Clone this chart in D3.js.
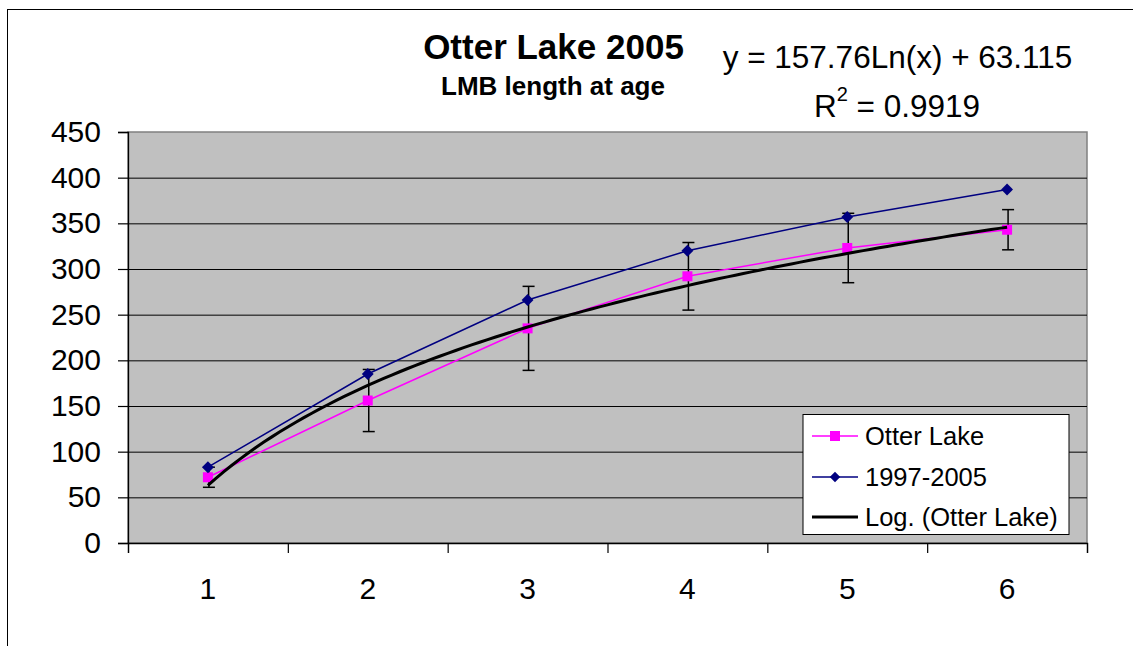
<!DOCTYPE html>
<html>
<head>
<meta charset="utf-8">
<script src="https://cdn.jsdelivr.net/npm/d3@7"></script>
<style>
  html, body { margin: 0; padding: 0; background: #fff; }
  svg { display: block; font-family: "Liberation Sans", Arial, sans-serif; }
</style>
</head>
<body>
<svg id="chart" width="1133" height="646"></svg>
<script>
// ---- data ----
const ages = [1, 2, 3, 4, 5, 6];
const otterLake = [72, 156, 235, 292, 323, 343];
const otterLakeErr = [11, 34, 46, 37, 38, 22];
const period9705 = [83, 185, 266, 320, 357, 387];
const yTicks = [0, 50, 100, 150, 200, 250, 300, 350, 400, 450];
const trendCoefA = 157.76;
const trendCoefB = 63.115;
const titleText = "Otter Lake 2005";
const subtitleText = "LMB length at age";
const seriesNames = ["Otter Lake", "1997-2005", "Log. (Otter Lake)"];

// ---- layout ----
const svg = d3.select("#chart");
const plot = { left: 128, top: 132, right: 1087, bottom: 543 };

// outer chart frame
svg.append("rect")
  .attr("x", 7.5).attr("y", 9.5)
  .attr("width", 1300).attr("height", 800)
  .attr("fill", "#fff").attr("stroke", "#000").attr("stroke-width", 1);

const x = d3.scaleBand().domain(ages).range([plot.left, plot.right]);
const xc = d3.scaleLinear().domain([0.5, 6.5]).range([plot.left, plot.right]);
const y = d3.scaleLinear().domain([0, 450]).range([plot.bottom, plot.top]);
const cx = a => x(a) + x.bandwidth() / 2;

// plot background
svg.append("rect")
  .attr("x", plot.left).attr("y", plot.top)
  .attr("width", plot.right - plot.left).attr("height", plot.bottom - plot.top)
  .attr("fill", "#c0c0c0").attr("stroke", "#808080").attr("stroke-width", 1.5);

// gridlines
const grid = svg.append("g")
  .attr("transform", `translate(${plot.left},0)`)
  .call(d3.axisLeft(y).tickValues(yTicks.filter(v => v > 0 && v < 450))
    .tickSize(-(plot.right - plot.left)).tickFormat(""));
grid.select(".domain").remove();
grid.selectAll(".tick line").attr("stroke", "#000").attr("stroke-width", 1);

// y axis
const yAxis = svg.append("g")
  .attr("transform", `translate(${plot.left},0)`)
  .call(d3.axisLeft(y).tickValues(yTicks).tickSize(10).tickPadding(17));
yAxis.select(".domain").attr("stroke", "#000").attr("stroke-width", 1.3);
yAxis.selectAll(".tick line").attr("stroke", "#000").attr("stroke-width", 1.2);
yAxis.selectAll(".tick text")
  .attr("font-size", 30).attr("fill", "#000")
  .attr("font-family", "Liberation Sans, Arial, sans-serif");

// x axis: ticks at category boundaries
const xAxis = svg.append("g")
  .attr("transform", `translate(0,${plot.bottom})`)
  .call(d3.axisBottom(xc).tickValues(d3.range(0.5, 6.6, 1)).tickSize(10).tickFormat(""));
xAxis.select(".domain").attr("stroke", "#000").attr("stroke-width", 1.3);
xAxis.selectAll(".tick line").attr("stroke", "#000").attr("stroke-width", 1.2);

const xLabels = svg.append("g")
  .attr("transform", `translate(0,${plot.bottom})`)
  .call(d3.axisBottom(x).tickSize(0).tickPadding(35));
xLabels.select(".domain").remove();
xLabels.selectAll(".tick text")
  .attr("font-size", 30).attr("fill", "#000")
  .attr("font-family", "Liberation Sans, Arial, sans-serif");

// error bars (Otter Lake)
const eb = svg.append("g").attr("stroke", "#000").attr("stroke-width", 1.5);
ages.forEach((a, i) => {
  const xx = cx(a) + 1;
  const lo = y(otterLake[i] - otterLakeErr[i]);
  const hi = y(otterLake[i] + otterLakeErr[i]);
  eb.append("line").attr("x1", xx).attr("x2", xx).attr("y1", lo).attr("y2", hi);
  eb.append("line").attr("x1", xx - 6).attr("x2", xx + 6).attr("y1", lo).attr("y2", lo);
  eb.append("line").attr("x1", xx - 6).attr("x2", xx + 6).attr("y1", hi).attr("y2", hi);
});

const line = d3.line().x((d, i) => cx(ages[i])).y(d => y(d));

// Otter Lake series
svg.append("path").datum(otterLake)
  .attr("d", line).attr("fill", "none").attr("stroke", "#ff00ff").attr("stroke-width", 1.5);
svg.append("g").selectAll("rect").data(otterLake).join("rect")
  .attr("x", (d, i) => cx(ages[i]) - 5).attr("y", d => y(d) - 5)
  .attr("width", 10).attr("height", 10).attr("fill", "#ff00ff");

// 1997-2005 series
svg.append("path").datum(period9705)
  .attr("d", line).attr("fill", "none").attr("stroke", "#000080").attr("stroke-width", 1.5);
const diamond = d3.symbol().type(d3.symbolDiamond2).size(90);
svg.append("g").selectAll("path").data(period9705).join("path")
  .attr("d", diamond)
  .attr("transform", (d, i) => `translate(${cx(ages[i])},${y(d)})`)
  .attr("fill", "#000080");

// logarithmic trendline
const trendPts = d3.range(1, 6.0001, 0.05).map(a => [a, trendCoefA * Math.log(a) + trendCoefB]);
svg.append("path").datum(trendPts)
  .attr("d", d3.line().x(d => xc(d[0])).y(d => y(d[1])))
  .attr("fill", "none").attr("stroke", "#000").attr("stroke-width", 3);

// titles
svg.append("text").attr("x", 553.5).attr("y", 59).attr("text-anchor", "middle")
  .attr("font-size", 35).attr("font-weight", "bold").text(titleText);
svg.append("text").attr("x", 553).attr("y", 95).attr("text-anchor", "middle")
  .attr("font-size", 26).attr("font-weight", "bold").text(subtitleText);

// trendline equation
svg.append("text").attr("x", 897.5).attr("y", 68).attr("text-anchor", "middle")
  .attr("font-size", 31.5)
  .text(`y = ${trendCoefA}Ln(x) + ${trendCoefB}`);
const r2 = svg.append("text").attr("x", 897).attr("y", 117).attr("text-anchor", "middle")
  .attr("font-size", 31.5);
r2.append("tspan").text("R");
r2.append("tspan").attr("dy", -16).attr("font-size", 20).text("2");
r2.append("tspan").attr("dy", 16).text(" = 0.9919");

// legend
const lg = svg.append("g");
lg.append("rect").attr("x", 803).attr("y", 414.5).attr("width", 266).attr("height", 120)
  .attr("fill", "#fff").attr("stroke", "#000").attr("stroke-width", 1);
const rows = [436, 477, 517];
const lx1 = 812, lx2 = 858, lmx = 835;
// row 1
lg.append("line").attr("x1", lx1).attr("x2", lx2).attr("y1", rows[0]).attr("y2", rows[0])
  .attr("stroke", "#ff00ff").attr("stroke-width", 1.5);
lg.append("rect").attr("x", lmx - 5).attr("y", rows[0] - 5).attr("width", 10).attr("height", 10).attr("fill", "#ff00ff");
// row 2
lg.append("line").attr("x1", lx1).attr("x2", lx2).attr("y1", rows[1]).attr("y2", rows[1])
  .attr("stroke", "#000080").attr("stroke-width", 1.5);
lg.append("path").attr("d", d3.symbol().type(d3.symbolDiamond2).size(70))
  .attr("transform", `translate(${lmx},${rows[1]})`).attr("fill", "#000080");
// row 3
lg.append("line").attr("x1", lx1).attr("x2", lx2).attr("y1", rows[2]).attr("y2", rows[2])
  .attr("stroke", "#000").attr("stroke-width", 3);
lg.selectAll("text.lbl").data(seriesNames).join("text")
  .attr("class", "lbl")
  .attr("x", 865).attr("y", (d, i) => rows[i] + 9)
  .attr("font-size", 25.5).text(d => d);
</script>
</body>
</html>
